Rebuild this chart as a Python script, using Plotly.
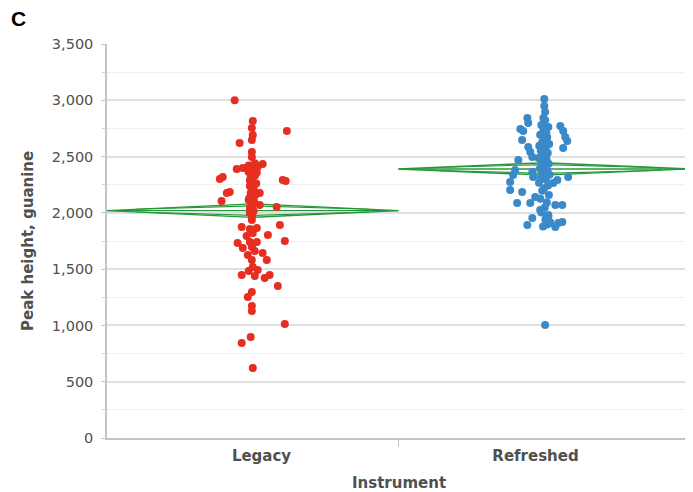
import numpy as np
import plotly.graph_objects as go

categories = ["Legacy", "Refreshed"]

legacy_values = [
    3000, 2816, 2727, 2754, 2692, 2647, 2620, 2541, 2496, 2434,
    2390, 2398, 2407, 2390, 2363, 2345, 2318, 2301, 2292, 2283,
    2310, 2274, 2239, 2212, 2185, 2176, 2176, 2176, 2141, 2114,
    2105, 2087, 2070, 2052, 2043, 2016, 1999, 1963, 1937, 1892,
    1874, 1865, 1857, 1821, 1803, 1794, 1750, 1732, 1741, 1741,
    1688, 1697, 1661, 1643, 1626, 1581, 1581, 1519, 1492, 1483,
    1448, 1421, 1448, 1439, 1350, 1297, 1252, 1173, 1128, 1013,
    897, 844, 622,
    2440, 2420, 2410, 2400, 2395, 2385, 2375, 2360, 2340, 2330,
    2290, 2260, 2230, 2200, 2160, 2130, 2100, 2060,
]
legacy_jitter = [
    -0.062, 0.000, 0.117, -0.003, 0.000, -0.003, -0.045, -0.003, -0.003, 0.034,
    -0.055, -0.034, -0.010, 0.007, -0.014, 0.010, -0.103, -0.113, 0.103, 0.113,
    -0.007, 0.000, -0.010, 0.003, -0.079, -0.089, 0.024, -0.007, 0.000, -0.014,
    -0.107, -0.003, 0.024, 0.082, -0.010, 0.003, -0.010, -0.003, -0.003, 0.093,
    -0.038, 0.014, -0.010, 0.000, 0.052, -0.021, 0.110, -0.052, -0.010, 0.014,
    -0.034, -0.003, 0.007, 0.034, -0.017, 0.048, -0.003, 0.000, 0.017, -0.014,
    -0.038, 0.041, 0.058, 0.007, 0.086, -0.003, -0.017, -0.003, -0.003, 0.110,
    -0.007, -0.038, 0.000,
    0.007, -0.014, 0.017, 0.003, -0.020, 0.010, -0.007, 0.014, -0.003, 0.007,
    -0.010, 0.012, -0.005, 0.003, 0.010, -0.012, 0.005, -0.002,
]

refreshed_values = [
    3011, 2949, 2896, 2843, 2843, 2798, 2745, 2727, 2771, 2727,
    2674, 2638, 2647, 2576, 2585, 2541, 2496, 2470, 2381, 2336,
    2274, 2318, 2363, 2318, 2203, 2185, 2265, 2292, 2087, 2087,
    2141, 2070, 2070, 1954, 1892, 1910, 1874, 1910, 1919, 1981,
    2025, 1004,
    2822, 2781, 2763, 2735, 2712, 2694, 2671, 2655, 2628, 2611,
    2597, 2569, 2552, 2531, 2517, 2488, 2473, 2452, 2437, 2418,
    2404, 2391, 2372, 2353, 2339, 2311, 2296, 2268, 2243, 2219,
    2196, 2158, 2126, 2092, 2048, 2003, 1968, 1941, 1917, 1896,
    1878,
]
refreshed_jitter = [
    0.000, 0.000, 0.003, -0.003, -0.058, -0.055, -0.082, -0.072, 0.055, 0.065,
    0.072, 0.079, -0.076, 0.065, -0.055, -0.048, -0.041, -0.089, -0.100, -0.107,
    -0.117, 0.082, -0.041, -0.038, -0.117, -0.076, 0.031, 0.045, -0.093, -0.048,
    -0.031, 0.038, 0.062, -0.041, -0.058, 0.021, 0.038, 0.048, 0.062, 0.014,
    -0.014, 0.003,
    0.003, -0.010, 0.014, -0.003, 0.007, -0.014, 0.010, 0.000, -0.007, 0.017,
    -0.017, 0.005, -0.012, 0.012, 0.000, -0.020, 0.008, -0.005, 0.015, -0.009,
    0.004, -0.015, 0.011, -0.003, 0.018, -0.011, 0.006, -0.018, 0.013, 0.000,
    -0.007, 0.016, -0.013, 0.009, 0.002, -0.010, 0.014, 0.004, 0.020, 0.010,
    -0.004,
]

# means diamonds (group mean and 95% CI half-width)
group_means = [2020, 2390]
group_ci = [60, 55]

y_ticks = [0, 500, 1000, 1500, 2000, 2500, 3000, 3500]
y_minor_ticks = [250, 750, 1250, 1750, 2250, 2750, 3250]

green = "#26973a"
fig = go.Figure()

for i, (m, ci) in enumerate(zip(group_means, group_ci)):
    xs = [i - 0.5, i, i + 0.5, i, i - 0.5]
    ys = [m, m + ci, m, m - ci, m]
    fig.add_trace(go.Scatter(x=xs, y=ys, mode="lines",
                             line=dict(color=green, width=1.4),
                             hoverinfo="skip", showlegend=False))
    fig.add_trace(go.Scatter(x=[i - 0.5, i + 0.5], y=[m, m], mode="lines",
                             line=dict(color=green, width=1.4),
                             hoverinfo="skip", showlegend=False))
    ov = ci / np.sqrt(2)
    for s in (1, -1):
        fig.add_trace(go.Scatter(x=[i - 0.4, i, i + 0.4],
                                 y=[m + s * 0.2 * ci, m + s * ov, m + s * 0.2 * ci],
                                 mode="lines", line=dict(color=green, width=1.1),
                                 hoverinfo="skip", showlegend=False))

fig.add_trace(go.Scatter(
    x=np.array(legacy_jitter) + 0, y=legacy_values, mode="markers",
    marker=dict(color="#e62e21", size=8), name=categories[0], showlegend=False))
fig.add_trace(go.Scatter(
    x=np.array(refreshed_jitter) + 1, y=refreshed_values, mode="markers",
    marker=dict(color="#3a89c9", size=8), name=categories[1], showlegend=False))

# category divider tick
fig.add_shape(type="line", xref="x", yref="paper", x0=0.5, x1=0.5, y0=0, y1=-0.022,
              line=dict(color="#bdbdbd", width=1))

# page body has an 8px margin, so the figure is 8px smaller and margins shifted
PW, PH = 583, 394
title_font = dict(size=15, color="#505050", family="DejaVu Sans", weight="bold")

fig.update_layout(
    width=685, height=484,
    margin=dict(l=99, r=3, t=36, b=54, autoexpand=False),
    paper_bgcolor="white", plot_bgcolor="white",
    font=dict(family="DejaVu Sans", color="#555555"),
    annotations=[
        dict(text="<b>C</b>", xref="paper", yref="paper",
             x=-98 / PW, y=1 + 25 / PH, xanchor="left", yanchor="middle",
             showarrow=False, font=dict(size=21, color="#000000", family="Liberation Sans")),
        dict(text="Instrument", xref="paper", yref="paper",
             x=0.5, y=-45 / PH, xanchor="center", yanchor="middle",
             showarrow=False, font=title_font),
        dict(text="Peak height, guanine", xref="paper", yref="paper",
             x=-79 / PW, y=0.5, xanchor="center", yanchor="middle", textangle=-90,
             showarrow=False, font=title_font),
    ],
)
fig.update_xaxes(
    range=[-0.5, 1.5], tickvals=[0.03, 0.97], ticktext=categories, automargin=False,
    showgrid=False, zeroline=False, showline=True, linecolor="#c4c4c4", linewidth=1.5,
    ticks="", ticklabelstandoff=3,
    tickfont=dict(size=15, color="#505050", family="DejaVu Sans", weight="bold"),
)
fig.update_yaxes(
    range=[0, 3500], tickvals=y_ticks, tickformat=",d", automargin=False,
    showgrid=True, gridcolor="#e0e0e0", gridwidth=1.5,
    zeroline=False, showline=True, linecolor="#c4c4c4", linewidth=1.5,
    ticks="outside", ticklen=4, tickcolor="#c4c4c4", ticklabelstandoff=5,
    minor=dict(tickvals=y_minor_ticks, ticks="outside",
               ticklen=3, tickcolor="#d0d0d0", showgrid=True, gridcolor="#f0f0f0",
               gridwidth=1),
    tickfont=dict(size=14.5, color="#505050", family="DejaVu Sans"),
)

fig.write_html("out.html", config={"displayModeBar": False})
